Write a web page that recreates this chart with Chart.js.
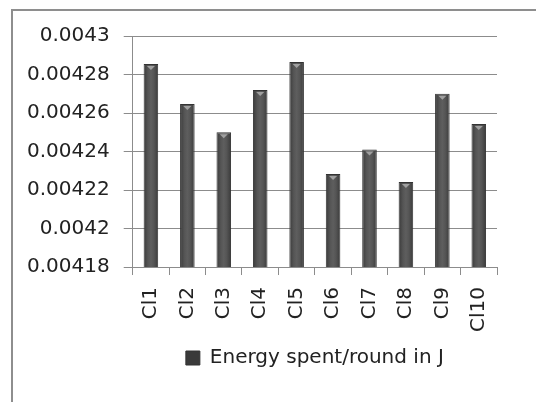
<!DOCTYPE html>
<html>
<head>
<meta charset="utf-8">
<script src="https://cdn.jsdelivr.net/npm/chart.js@4.4.1/dist/chart.umd.min.js"></script>
<style>
  html, body { margin: 0; padding: 0; background: #fff; }
  #wrap { position: relative; width: 536px; height: 402px; overflow: hidden; }
  #frame { position: absolute; left: 11px; top: 9px; width: 600px; height: 500px;
           border-left: 2px solid #8e8e8e; border-top: 2px solid #8e8e8e; }
  #energy_graph { position: absolute; left: 0; top: 0; }
</style>
</head>
<body>
<div id="wrap">
  <div id="frame"></div>
  <canvas id="energy_graph" width="536" height="402"></canvas>
</div>
<script>
const labels = ['Cl1', 'Cl2', 'Cl3', 'Cl4', 'Cl5', 'Cl6', 'Cl7', 'Cl8', 'Cl9', 'Cl10']
const energy = [0.0042854, 0.0042647, 0.00425, 0.0042719, 0.0042865, 0.0042283, 0.004241, 0.0042242, 0.00427, 0.0042543]
const yMin = 0.00418
const yMax = 0.0043
const yStep = 0.00002

// horizontal shading across each bar, like the old office column style
function barFill(ctx) {
    if (ctx.type !== 'data') return '#555555';
    const chart = ctx.chart;
    const x = chart.scales.x;
    if (!x || !chart.chartArea) return '#555555';
    const cx = x.getPixelForValue(ctx.dataIndex);
    const half = (x.width / labels.length) * 0.4 / 2;
    const g = chart.ctx.createLinearGradient(cx - half, 0, cx + half, 0);
    g.addColorStop(0, '#3a3a3a');
    g.addColorStop(0.3, '#555555');
    g.addColorStop(0.5, '#5e5e5e');
    g.addColorStop(0.7, '#555555');
    g.addColorStop(1, '#3a3a3a');
    return g;
}

// little light bevel at the top of each column
const bevel = {
    id: 'bevel',
    afterDatasetsDraw(chart) {
        const c = chart.ctx;
        chart.getDatasetMeta(0).data.forEach(bar => {
            const w = bar.width * 0.55;
            c.save();
            c.fillStyle = '#a0a0a0';
            c.beginPath();
            c.moveTo(bar.x - w / 2, bar.y + 2);
            c.lineTo(bar.x + w / 2, bar.y + 2);
            c.lineTo(bar.x, bar.y + 6);
            c.closePath();
            c.fill();
            c.restore();
        });
    }
};

Chart.defaults.font.family = 'DejaVu Sans';
Chart.defaults.font.size = 20;
Chart.defaults.color = '#222222';

const data = {
    labels: labels,
    datasets: [{
        label: 'Energy spent/round in J',
        data: energy,
        backgroundColor: barFill,
        borderColor: '#333333',
        borderWidth: 1,
        barPercentage: 0.4,
        categoryPercentage: 1.0,
    }]
}

const config = {
    type: 'bar',
    data: data,
    plugins: [bevel],
    options: {
        responsive: false,
        animation: false,
        layout: {
            padding: { left: 13, right: 39, top: 36, bottom: 24 }
        },
        plugins: {
            legend: {
                position: 'bottom',
                fullSize: false,
                labels: {
                    boxWidth: 14,
                    boxHeight: 14,
                    padding: 4,
                    color: '#222222',
                    font: { size: 20 }
                }
            },
            tooltip: { enabled: false }
        },
        scales: {
            x: {
                grid: {
                    drawOnChartArea: false,
                    drawTicks: true,
                    tickLength: 8,
                    color: '#8c8c8c',
                },
                border: { color: '#8c8c8c', width: 1 },
                ticks: {
                    minRotation: 90,
                    maxRotation: 90,
                    padding: 12,
                    autoSkip: false,
                }
            },
            y: {
                min: yMin,
                max: yMax,
                grid: {
                    color: '#8c8c8c',
                    tickLength: 9,
                },
                border: { color: '#8c8c8c', width: 1 },
                ticks: {
                    stepSize: yStep,
                    padding: 14,
                    callback: v => String(Number(v.toFixed(5)))
                }
            }
        }
    },
};

const energy_graph = new Chart(
    document.getElementById('energy_graph'),
    config
);
</script>
</body>
</html>
